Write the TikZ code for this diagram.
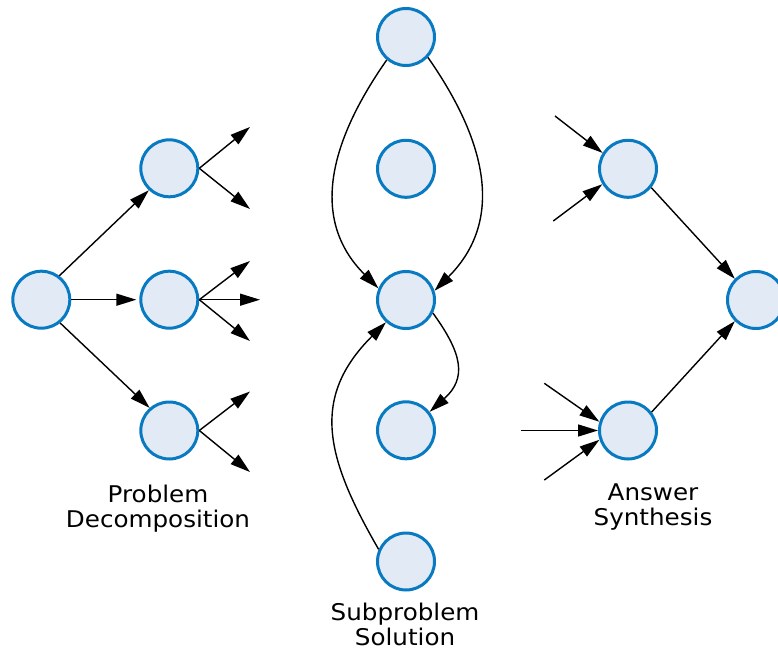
\documentclass[tikz,border=0pt]{standalone}
\usepackage{fontspec}
\setmainfont{DejaVu Sans}[FakeStretch=1.07]
\usetikzlibrary{arrows.meta}
\definecolor{ringblue}{RGB}{8,122,194}
\definecolor{ringfill}{RGB}{226,234,245}
\begin{document}
\begin{tikzpicture}[x=1pt, y=1pt,
    blob/.style={circle, draw=ringblue, fill=ringfill, line width=3pt, minimum size=57pt, inner sep=0pt},
    edge/.style={-{Triangle[length=20pt, width=12pt]}, line width=1.4pt},
    lbl/.style={align=center, anchor=base, inner sep=0pt, font=\fontsize{23}{24.5}\selectfont}]
      \useasboundingbox (0,0) rectangle (778,649);

      % decomposition
      \node[blob] (A0) at (41.3, 349.3) {};
      \node[blob] (A1) at (169.3, 480.7) {};
      \node[blob] (A2) at (169.3, 349.3) {};
      \node[blob] (A3) at (169.3, 218.5) {};
      \draw[edge] (A0.53) -- (A1.227);
      \draw[edge, shorten >=3pt] (A0.east) -- (A2.west);
      \draw[edge] (A0.-51) -- (A3.131);
      \coordinate (a1u) at (250, 522);
      \coordinate (a1d) at (250, 440);
      \coordinate (a2u) at (250, 388);
      \coordinate (a2m) at (260, 349.3);
      \coordinate (a2d) at (250, 308);
      \coordinate (a3u) at (250, 257.5);
      \coordinate (a3d) at (250, 177);
      \draw[edge] (A1.east) -- (a1u);
      \draw[edge] (A1.east) -- (a1d);
      \draw[edge] (A2.east) -- (a2u);
      \draw[edge] (A2.east) -- (a2m);
      \draw[edge] (A2.east) -- (a2d);
      \draw[edge] (A3.east) -- (a3u);
      \draw[edge] (A3.east) -- (a3d);
      \node[lbl] (decomp) at (158, 122) {Problem\\Decomposition};

      % subproblems
      \node[blob] (M1) at (406, 612) {};
      \node[blob] (M2) at (406, 480.2) {};
      \node[blob] (M3) at (406, 349) {};
      \node[blob] (M4) at (406, 218.7) {};
      \node[blob] (M5) at (406, 87.5) {};
      \draw[edge] (M1.230) to[out=-125, in=135, looseness=1.1] (M3.157);
      \draw[edge] (M1.-43) to[out=-55, in=45, looseness=1.1] (M3.18);
      \draw[edge] (M3.-26) to[out=-54, in=42, looseness=1.3] (M4.38);
      \draw[edge] (M5.156) to[out=120, in=-135, looseness=1.2] (M3.228);
      \node[lbl] (solve) at (405, 4) {Subproblem\\Solution};

      % synthesis
      \node[blob] (R1) at (628, 480.2) {};
      \node[blob] (R2) at (628, 218.5) {};
      \node[blob] (R3) at (756, 349) {};
      \coordinate (r1u) at (555, 533);
      \coordinate (r1d) at (553.3, 428);
      \coordinate (r2u) at (544.3, 265.7);
      \coordinate (r2m) at (521, 218.5);
      \coordinate (r2d) at (544.3, 169);
      \draw[edge] (r1u) -- (R1.148);
      \draw[edge] (r1d) -- (R1.211);
      \draw[edge] (r2u) -- (R2.163);
      \draw[edge] (r2m) -- (R2.west);
      \draw[edge] (r2d) -- (R2.198);
      \draw[edge] (R1.-39) -- (R3.135);
      \draw[edge] (R2.38) -- (R3.225);
      \node[lbl] (synth) at (653, 124) {Answer\\Synthesis};
    \end{tikzpicture}
\end{document}
